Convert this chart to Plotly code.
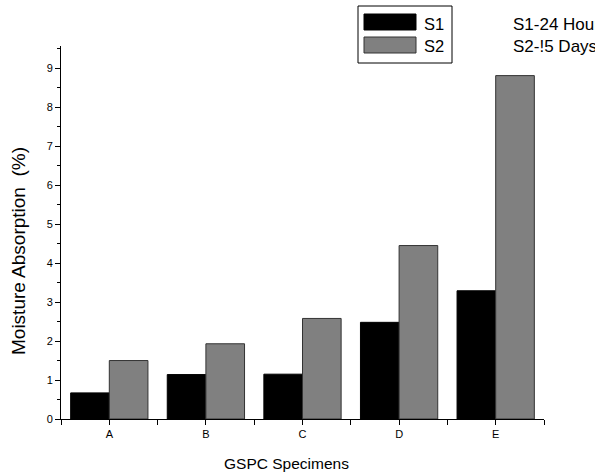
import plotly.graph_objects as go

specimens = ["A", "B", "C", "D", "E"]
s1_24h = [0.67, 1.14, 1.15, 2.48, 3.29]
s2_15d = [1.50, 1.93, 2.58, 4.45, 8.81]
y_ticks = [0, 1, 2, 3, 4, 5, 6, 7, 8, 9]

FONT = "Liberation Sans, Arial, sans-serif"
xpos = list(range(len(specimens)))

fig = go.Figure()
fig.add_trace(go.Bar(x=xpos, y=s1_24h, name="S1", marker=dict(color="#000000", line=dict(color="#000000", width=1)),
                     showlegend=False))
fig.add_trace(go.Bar(x=xpos, y=s2_15d, name="S2", marker=dict(color="#808080", line=dict(color="#333333", width=1)),
                     showlegend=False))

W, H = 595, 473
ml, mr, mt, mb = 61, 51, 46, 54

fig.update_layout(
    width=W, height=H,
    margin=dict(l=ml, r=mr, t=mt, b=mb),
    paper_bgcolor="white", plot_bgcolor="white",
    barmode="group", bargap=0.2, bargroupgap=0,
    font=dict(family=FONT, color="black"),
    xaxis=dict(
        range=[-0.5, 4.5], tickvals=xpos, ticktext=specimens,
        showline=True, linecolor="black", linewidth=1, showgrid=False, zeroline=False,
        ticks="outside", ticklen=5, tickcolor="black", tickfont=dict(size=11),
        minor=dict(tickvals=[-0.5, 0.5, 1.5, 2.5, 3.5, 4.5], ticks="outside", ticklen=5, tickcolor="black"),
    ),
    yaxis=dict(
        range=[0, 9.57], tickvals=y_ticks,
        showline=True, linecolor="black", linewidth=1, showgrid=False, zeroline=False,
        ticks="outside", ticklen=5, tickcolor="black", tickfont=dict(size=11),
        minor=dict(dtick=0.5, ticks="outside", ticklen=3, tickcolor="black"),
    ),
)

def px_to_paper(px, py):
    return (px - ml) / (W - ml - mr), ((H - mb) - py) / (H - mt - mb)

# axis titles
ax, ay = px_to_paper(286, 463)
fig.add_annotation(text="GSPC Specimens", xref="paper", yref="paper", x=ax, y=ay,
                   showarrow=False, font=dict(size=15.5), xanchor="center", yanchor="middle")
ax, ay = px_to_paper(19, 251)
fig.add_annotation(text="Moisture Absorption  (%)", xref="paper", yref="paper", x=ax, y=ay,
                   showarrow=False, font=dict(size=19), textangle=-90, xanchor="center", yanchor="middle")

# custom legend box with large swatches
def rect(x0, y0, x1, y1, fill, line_color="black", lw=1):
    a = px_to_paper(x0, y0)
    b = px_to_paper(x1, y1)
    fig.add_shape(type="rect", xref="paper", yref="paper", x0=a[0], y0=b[1], x1=b[0], y1=a[1],
                  fillcolor=fill, line=dict(color=line_color, width=lw), layer="above")

rect(358, 6, 452, 63, "white")
rect(364, 14, 416, 30, "#000000")
rect(364, 37, 416, 53, "#808080", "#333333")
for label, py in [("S1", 23.5), ("S2", 46)]:
    px, pyy = px_to_paper(422, py)
    fig.add_annotation(text=label, xref="paper", yref="paper", x=px, y=pyy, showarrow=False,
                       xanchor="left", yanchor="middle", font=dict(size=16.5))

# note on the conditioning times, running off the right edge of the page
for label, py in [("S1-24 Hours", 25), ("S2-!5 Days", 46)]:
    px, pyy = px_to_paper(511, py)
    fig.add_annotation(text=label, xref="paper", yref="paper", x=px, y=pyy, showarrow=False,
                       xanchor="left", yanchor="middle", font=dict(size=17))

fig.write_html("out.html")
